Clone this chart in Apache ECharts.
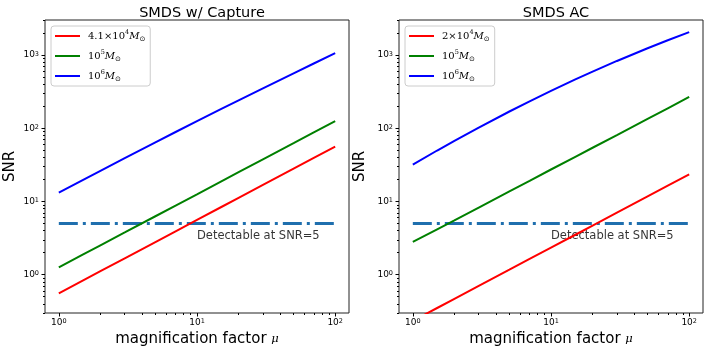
<!DOCTYPE html>
<html>
<head>
<meta charset="utf-8">
<script src="https://cdn.jsdelivr.net/npm/echarts@6/dist/echarts.min.js"></script>
<style>
  html, body { margin: 0; padding: 0; background: #fff; }
  #chart { width: 706px; height: 353px; }
</style>
</head>
<body>
<div id="chart"></div>
<script>
// magnification factor (x)
var mu = [1, 1.5, 2, 3, 5, 7, 10, 15, 20, 30, 50, 70, 100];

// SMDS w/ Capture
var capLow = [0.555, 0.835, 1.115, 1.675, 2.79, 3.91, 5.59, 8.4, 11.2, 16.8, 28.0, 39.3, 56.2];
var cap5 = [1.26, 1.89, 2.52, 3.77, 6.28, 8.79, 12.5, 18.8, 25.1, 37.6, 62.6, 87.6, 125];
var cap6 = [13.2, 19.7, 26.2, 39.0, 64.2, 88.7, 124.7, 183, 240, 350, 562, 764, 1057];

// SMDS AC
var acLow = [0.234, 0.351, 0.468, 0.702, 1.17, 1.64, 2.34, 3.51, 4.68, 7.02, 11.7, 16.4, 23.4];
var ac5 = [2.8, 4.17, 5.53, 8.26, 13.7, 19.1, 27.3, 40.7, 54.1, 80.7, 134, 187, 267];
var ac6 = [31.8, 49.6, 67.3, 102, 169, 233, 324, 463, 593, 828, 1235, 1586, 2046];

var threshold = 5;
var thresholdText = 'Detectable at SNR=5';
var textPos = [10, 3.4];

var titles = ['SMDS w/ Capture', 'SMDS AC'];
var lowMass = ['4.1×10', '2×10'];

var xMajor = [1, 10, 100];
var xMinor = [2, 3, 4, 5, 6, 7, 8, 9, 20, 30, 40, 50, 60, 70, 80, 90];
var yMajor = [1, 10, 100, 1000];
var yMinor = [0.3, 0.4, 0.5, 0.6, 0.7, 0.8, 0.9, 2, 3, 4, 5, 6, 7, 8, 9,
  20, 30, 40, 50, 60, 70, 80, 90, 200, 300, 400, 500, 600, 700, 800, 900, 2000, 3000];

var chart = echarts.init(document.getElementById('chart'));

function pair(ys) {
  return mu.map(function (x, i) { return [x, ys[i]]; });
}

function powLabel(v) {
  return '10{s|' + Math.round(Math.log10(v)) + '}';
}

var gridLeft = [45, 399];
var panels = [[capLow, cap5, cap6], [acLow, ac5, ac6]];
var colors = ['#ff0000', '#008000', '#0000ff'];
var tickFont = { color: '#000', fontSize: 9, fontFamily: 'DejaVu Sans',
  rich: { s: { fontSize: 6.5, fontFamily: 'DejaVu Sans', verticalAlign: 'top', color: '#000' } } };

var grids = [], xAxes = [], yAxes = [], series = [], legends = [], titleList = [];
var legendNames = {};

for (var g = 0; g < 2; g++) {
  grids.push({ left: gridLeft[g], top: 20, width: 304, height: 293, show: true,
    borderColor: '#222', borderWidth: 1, backgroundColor: 'transparent' });

  titleList.push({ text: titles[g], left: gridLeft[g] + 152, top: 1, textAlign: 'center',
    textStyle: { fontFamily: 'DejaVu Sans', fontSize: 14.5, fontWeight: 'normal', color: '#000' } });

  // main x axis
  xAxes.push({ type: 'log', gridIndex: g, position: 'bottom', min: Math.pow(10, -0.1), max: Math.pow(10, 2.1),
    name: 'magnification factor {mu|μ}', nameLocation: 'middle', nameGap: 18,
    nameTextStyle: { fontFamily: 'DejaVu Sans', fontSize: 15, color: '#000',
      rich: { mu: { fontFamily: 'DejaVu Serif', fontStyle: 'italic', fontSize: 11.5, color: '#000' } } },
    axisLine: { show: false }, splitLine: { show: false },
    axisTick: { customValues: xMajor, length: 3.5, lineStyle: { color: '#000' } },
    axisLabel: Object.assign({ customValues: xMajor, formatter: powLabel, margin: 5 }, tickFont) });
  // minor x ticks
  xAxes.push({ type: 'log', gridIndex: g, position: 'bottom', min: Math.pow(10, -0.1), max: Math.pow(10, 2.1),
    axisLine: { show: false }, splitLine: { show: false }, axisLabel: { show: false },
    axisTick: { customValues: xMinor, length: 2, lineStyle: { color: '#000' } } });

  yAxes.push({ type: 'log', gridIndex: g, position: 'left', min: 0.3, max: 3000,
    name: 'SNR', nameLocation: 'middle', nameGap: g === 0 ? 27 : 31,
    nameTextStyle: { fontFamily: 'DejaVu Sans', fontSize: 15, color: '#000' },
    axisLine: { show: false }, splitLine: { show: false },
    axisTick: { customValues: yMajor, length: 3.5, lineStyle: { color: '#000' } },
    axisLabel: Object.assign({ customValues: yMajor, formatter: powLabel, margin: 6 }, tickFont) });
  yAxes.push({ type: 'log', gridIndex: g, position: 'left', min: 0.3, max: 3000,
    axisLine: { show: false }, splitLine: { show: false }, axisLabel: { show: false },
    axisTick: { customValues: yMinor, length: 2, lineStyle: { color: '#000' } } });

  var labels = [
    '{n|' + lowMass[g] + '}{s|4}{m|M}{o|⊙}',
    '{n|10}{s|5}{m|M}{o|⊙}',
    '{n|10}{s|6}{m|M}{o|⊙}'
  ];
  var names = [];
  for (var k = 0; k < 3; k++) {
    var nm = 'p' + g + 's' + k;
    names.push(nm);
    legendNames[nm] = labels[k];
    series.push({ name: nm, type: 'line', xAxisIndex: 2 * g, yAxisIndex: 2 * g,
      data: pair(panels[g][k]), showSymbol: false, symbol: 'none', smooth: false,
      lineStyle: { color: colors[k], width: 2 }, itemStyle: { color: colors[k] }, z: 3 });
  }

  series.push({ name: 'thr' + g, type: 'line', xAxisIndex: 2 * g, yAxisIndex: 2 * g,
    data: [[mu[0], threshold], [mu[mu.length - 1], threshold]], symbol: 'none',
    lineStyle: { color: '#1f6fae', width: 3, type: [19, 5, 3, 5], cap: 'butt' }, z: 2 });

  series.push({ name: 'txt' + g, type: 'scatter', xAxisIndex: 2 * g, yAxisIndex: 2 * g,
    data: [textPos], symbolSize: 0, silent: true,
    label: { show: true, formatter: thresholdText, position: [0, 0], align: 'left',
      verticalAlign: 'middle', fontFamily: 'DejaVu Sans', fontSize: 11.5, color: '#000' } });

  legends.push({ data: names, orient: 'vertical', left: gridLeft[g] + 6, top: 26,
    icon: 'rect', itemWidth: 25, itemHeight: 2, itemGap: 6,
    padding: [3, 5, 3, 4], backgroundColor: 'rgba(255,255,255,0.8)',
    borderColor: '#cccccc', borderWidth: 1, borderRadius: 3,
    formatter: function (n) { return legendNames[n]; },
    textStyle: { fontFamily: 'DejaVu Serif', fontSize: 10, color: '#000', lineHeight: 14,
      padding: [0, 0, 0, 3],
      rich: {
        n: { fontFamily: 'DejaVu Serif', fontSize: 10, color: '#000' },
        s: { fontFamily: 'DejaVu Serif', fontSize: 6.5, verticalAlign: 'top', color: '#000' },
        m: { fontFamily: 'DejaVu Serif', fontStyle: 'italic', fontSize: 10, color: '#000' },
        o: { fontFamily: 'DejaVu Sans', fontSize: 7, verticalAlign: 'bottom', color: '#000' }
      } } });
}

chart.setOption({
  animation: false,
  backgroundColor: '#fff',
  title: titleList,
  grid: grids,
  xAxis: xAxes,
  yAxis: yAxes,
  legend: legends,
  series: series
});
</script>
</body>
</html>
